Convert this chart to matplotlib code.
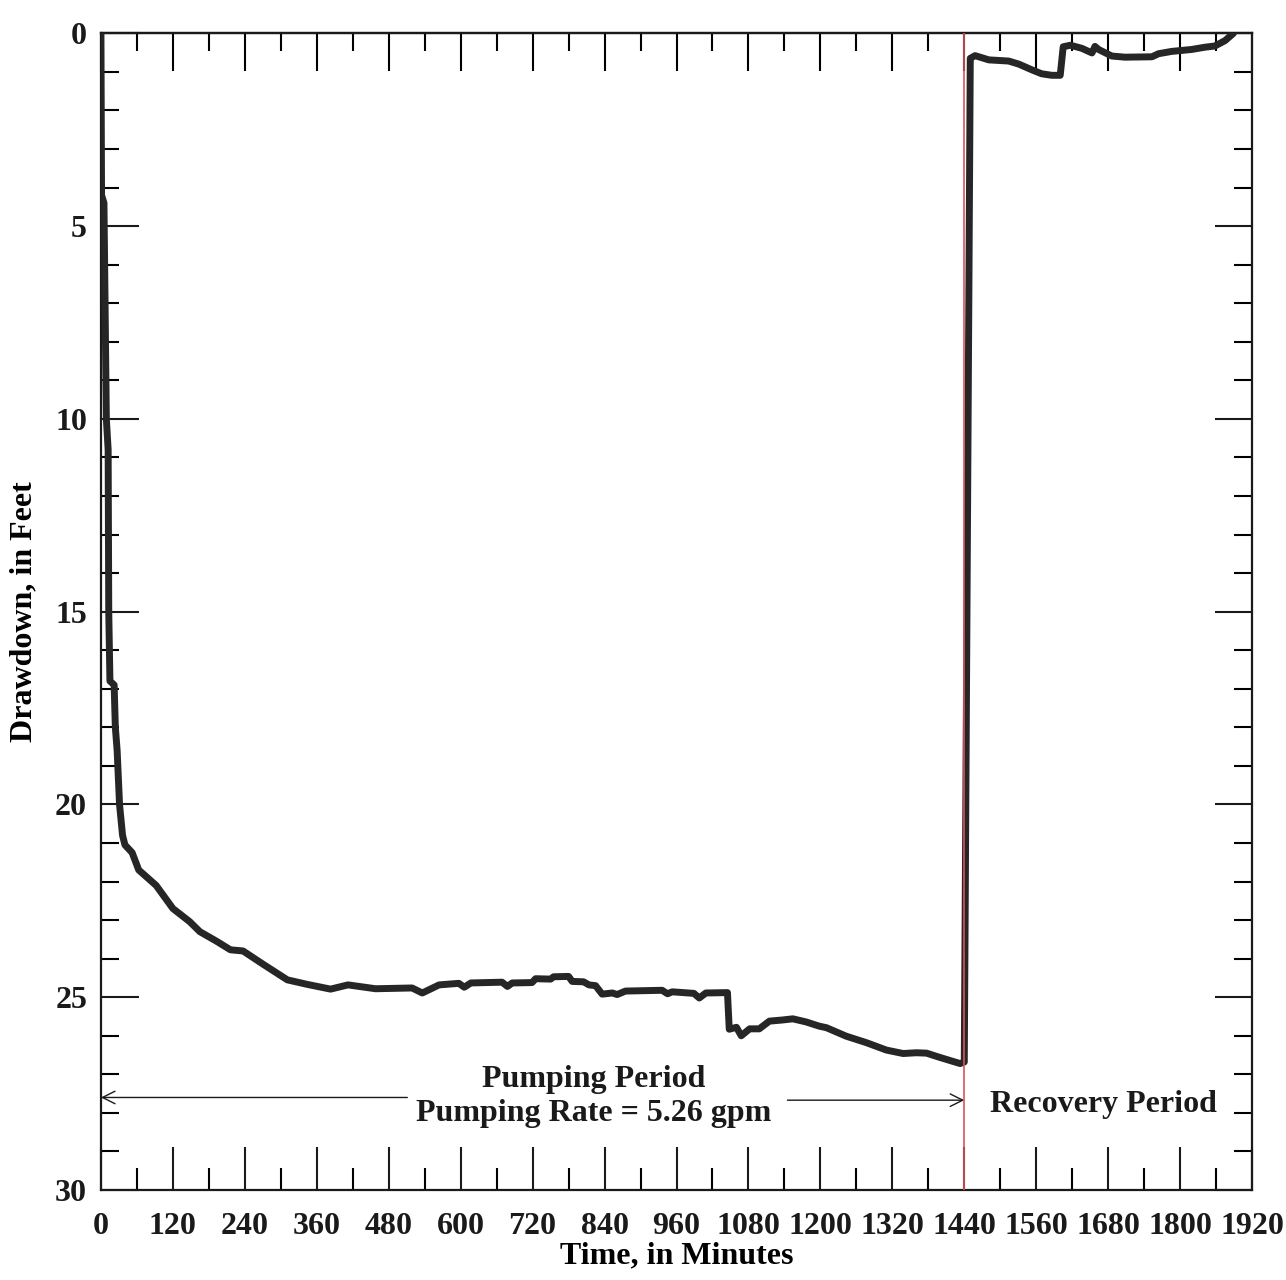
import matplotlib
matplotlib.use("Agg")
import matplotlib.pyplot as plt
from matplotlib.ticker import MultipleLocator

# ---- data ----
pump_time = [0, 1, 5, 9, 12, 13, 15, 22, 24, 27, 31, 36, 40, 52, 63, 92, 120, 148,
             165, 193, 216, 237, 271, 311, 345, 383, 412, 458, 519, 536, 564, 597,
             606, 617, 669, 678, 686, 719, 725, 750, 755, 780, 786, 805, 814, 825,
             836, 853, 861, 875, 936, 945, 953, 989, 998, 1009, 1045, 1048, 1060,
             1068, 1082, 1098, 1115, 1137, 1154, 1176, 1198, 1210, 1243, 1277,
             1310, 1338, 1360, 1377, 1399, 1433, 1440]
pump_draw = [0.0, 4.2, 4.4, 10.0, 10.8, 15.0, 16.8, 16.9, 18.0, 18.6, 20.0, 20.8,
             21.05, 21.25, 21.7, 22.1, 22.7, 23.04, 23.3, 23.55, 23.77, 23.8, 24.15,
             24.55, 24.67, 24.79, 24.68, 24.78, 24.76, 24.89, 24.68, 24.64, 24.74,
             24.63, 24.61, 24.72, 24.63, 24.62, 24.52, 24.53, 24.47, 24.46, 24.59,
             24.60, 24.68, 24.70, 24.92, 24.89, 24.93, 24.84, 24.82, 24.91, 24.86,
             24.90, 25.02, 24.89, 24.88, 25.83, 25.78, 26.0, 25.82, 25.82, 25.62,
             25.59, 25.56, 25.64, 25.75, 25.79, 26.01, 26.18, 26.37, 26.46, 26.44,
             26.45, 26.56, 26.72, 26.68]

recov_time = [1440, 1450, 1458, 1481, 1514, 1531, 1553, 1569, 1586, 1600, 1605, 1617,
              1636, 1653, 1658, 1664, 1686, 1708, 1753, 1764, 1786, 1819, 1842, 1858,
              1875, 1889]
recov_draw = [26.68, 0.65, 0.58, 0.69, 0.72, 0.80, 0.95, 1.05, 1.09, 1.09, 0.35, 0.31,
              0.39, 0.51, 0.34, 0.42, 0.59, 0.62, 0.61, 0.53, 0.47, 0.42, 0.36, 0.33,
              0.19, 0.0]

x_major = list(range(0, 1921, 120))
x_labels = [str(v) for v in x_major]
y_major = [0, 5, 10, 15, 20, 25, 30]
pump_end = 1440

FONT = "Liberation Serif"
plt.rcParams["font.family"] = [FONT, "DejaVu Serif"]
plt.rcParams["font.weight"] = "bold"
FS = 23

fig = plt.figure(figsize=(12.86, 12.80), dpi=100)
ax = fig.add_axes([0.0785, 0.0703, 0.8951, 0.9037])

line_color = "#262626"
ax.plot(pump_time + recov_time, pump_draw + recov_draw, color=line_color,
        lw=5.0, solid_capstyle="round", solid_joinstyle="round", zorder=3)
ax.axvline(pump_end, color="#e0505e", lw=1.2, zorder=4)

ax.set_xlim(0, 1920)
ax.set_ylim(30, 0)

ax.set_xticks(x_major)
ax.set_xticklabels(x_labels)
ax.xaxis.set_minor_locator(MultipleLocator(60))
ax.set_yticks(y_major)
ax.yaxis.set_minor_locator(MultipleLocator(1))

for s in ax.spines.values():
    s.set_linewidth(1.6)
    s.set_color("#1a1a1a")

ax.tick_params(axis="x", which="major", direction="in", length=31, width=1.5,
               bottom=True, top=False, labelsize=FS, pad=16, colors="#1a1a1a")
ax.tick_params(axis="x", which="minor", direction="in", length=16, width=1.5,
               bottom=True, top=False)
ax.tick_params(axis="y", which="major", direction="in", length=27, width=1.5,
               left=True, right=True, labelsize=FS, pad=10, colors="#1a1a1a")
ax.tick_params(axis="y", which="minor", direction="in", length=13, width=1.5,
               left=True, right=True)

top = ax.secondary_xaxis("top")
top.set_xticks(x_major)
top.xaxis.set_minor_locator(MultipleLocator(60))
top.tick_params(which="major", direction="in", length=27, width=1.5, labeltop=False)
top.tick_params(which="minor", direction="in", length=13, width=1.5)
top.xaxis.set_ticklabels([])
top.spines["top"].set_linewidth(1.6)

for lab in ax.get_xticklabels() + ax.get_yticklabels():
    lab.set_fontweight("bold")

ax.set_ylabel("Drawdown, in Feet", fontsize=FS, fontweight="bold", labelpad=12)
ax.set_xlabel("Time, in Minutes", fontsize=FS, fontweight="bold", labelpad=0)

txt_kw = dict(fontsize=FS, fontweight="bold", ha="center", va="center",
              color="#1a1a1a", zorder=5)
ax.text(822, 27.14, "Pumping Period", **txt_kw)
ax.text(822, 28.02, "Pumping Rate = 5.26 gpm", **txt_kw)
ax.text(1672, 27.79, "Recovery Period", **txt_kw)

arrow_kw = dict(arrowstyle="->,head_length=0.9,head_width=0.45", lw=1.0,
                color="#1a1a1a", shrinkA=0, shrinkB=0)
ax.annotate("", xy=(0, 27.6), xytext=(511, 27.6), arrowprops=arrow_kw)
ax.annotate("", xy=(1440, 27.67), xytext=(1145, 27.67), arrowprops=arrow_kw)

fig.savefig("out.png", dpi=100, facecolor="white")
